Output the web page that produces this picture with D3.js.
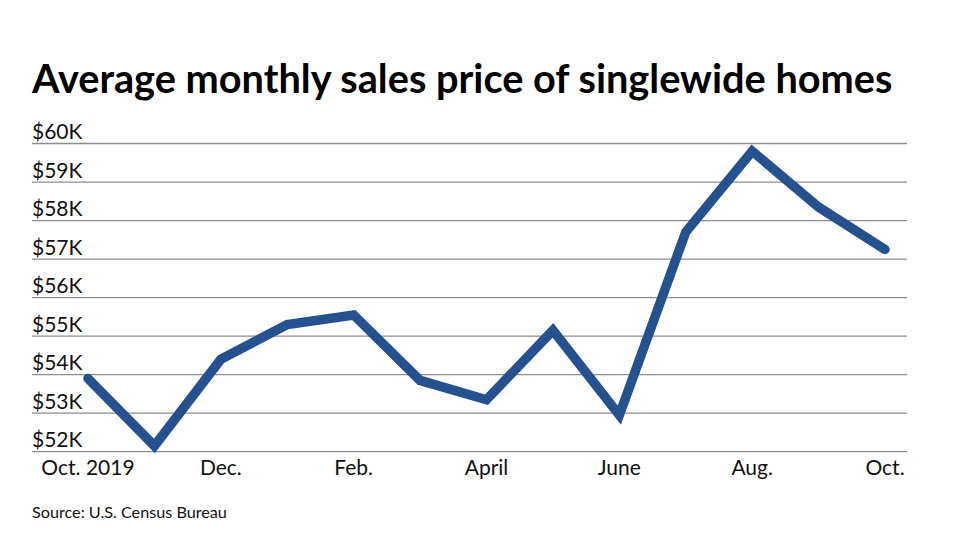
<!DOCTYPE html>
<html>
<head>
<meta charset="utf-8">
<script src="https://cdn.jsdelivr.net/npm/d3@7"></script>
<style>
  body { margin: 0; background: #fff; }
  svg { display: block; font-family: Lato, sans-serif; }
</style>
</head>
<body>
<script>
// monthly data, Oct. 2019 - Oct. 2020
let months = ["2019-10", "2019-11", "2019-12", "2020-01", "2020-02", "2020-03", "2020-04",
              "2020-05", "2020-06", "2020-07", "2020-08", "2020-09", "2020-10"];
let prices = [53.9, 52.15, 54.4, 55.3, 55.55, 53.85, 53.35, 55.15, 52.95, 57.7, 59.8, 58.35, 57.25];

// labelled months on the x axis
let xTickMonths = ["2019-10", "2019-12", "2020-02", "2020-04", "2020-06", "2020-08", "2020-10"];
let xTickLabels = ["Oct. 2019", "Dec.", "Feb.", "April", "June", "Aug.", "Oct."];

let yTicks = [52, 53, 54, 55, 56, 57, 58, 59, 60];

window.onload = drawChart();

function drawChart(){
    let width = 978;
    let height = 550;

    let svg = d3.select("body")
        .append("svg")
        .attr("width", width)
        .attr("height", height);

    // scales
    let x = d3.scalePoint()
        .domain(months)
        .range([88, 885]);

    let y = d3.scaleLinear()
        .domain([52, 60])
        .range([451.7, 143.5]);

    // title
    svg.append("text")
        .attr("x", 32)
        .attr("y", 93)
        .attr("font-size", 39.7)
        .attr("font-weight", 700)
        .attr("fill", "#000")
        .text("Average monthly sales price of singlewide homes");

    // gridlines + y labels
    let grid = svg.append("g").attr("class", "grid");

    grid.selectAll("line")
        .data(yTicks)
        .enter()
        .append("line")
        .attr("x1", 32)
        .attr("x2", 907)
        .attr("y1", d => y(d))
        .attr("y2", d => y(d))
        .attr("stroke", "#8e8e8e")
        .attr("stroke-width", 1.3);

    grid.selectAll("text")
        .data(yTicks)
        .enter()
        .append("text")
        .attr("x", 32)
        .attr("y", d => y(d) - 4.5)
        .attr("font-size", 21)
        .attr("fill", "#111")
        .text(d => "$" + d + "K");

    // x labels
    svg.append("g")
        .selectAll("text")
        .data(xTickMonths)
        .enter()
        .append("text")
        .attr("x", d => x(d))
        .attr("y", 475)
        .attr("text-anchor", "middle")
        .attr("font-size", 21)
        .attr("fill", "#111")
        .text((d, i) => xTickLabels[i]);

    // price line
    let line = d3.line()
        .x((d, i) => x(months[i]))
        .y(d => y(d));

    svg.append("path")
        .datum(prices)
        .attr("d", line)
        .attr("fill", "none")
        .attr("stroke", "#25528e")
        .attr("stroke-width", 9.5)
        .attr("stroke-linejoin", "miter")
        .attr("stroke-miterlimit", 4)
        .attr("stroke-linecap", "round");

    // source note
    svg.append("text")
        .attr("x", 32)
        .attr("y", 518)
        .attr("font-size", 16.2)
        .attr("fill", "#111")
        .text("Source: U.S. Census Bureau");
}
</script>
</body>
</html>
